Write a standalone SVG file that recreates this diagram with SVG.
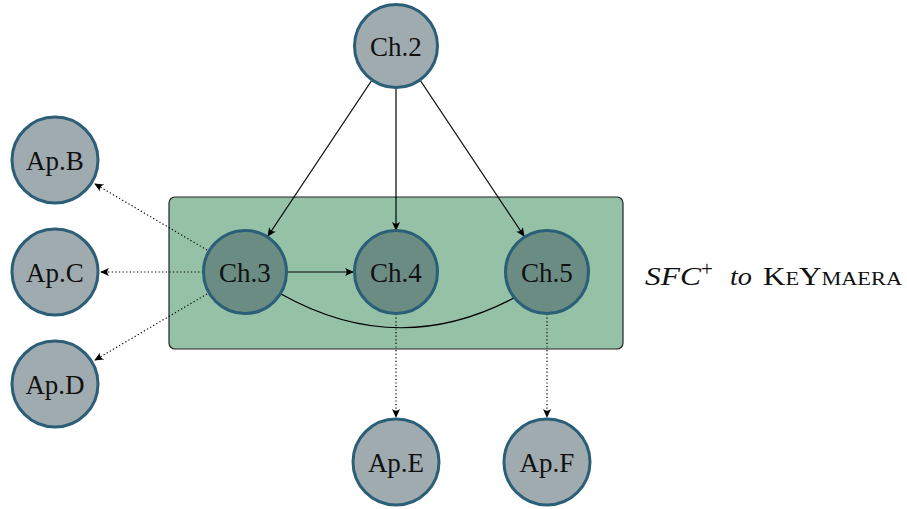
<svg xmlns="http://www.w3.org/2000/svg" width="907" height="509" viewBox="0 0 907 509">
<defs>
<style>
.n circle{fill:#a0abb0;stroke:#2b5f78;stroke-width:3}
.n.in circle{fill:#6b8c83}
.n text{font-family:"Liberation Serif",serif;font-size:27px;fill:#111;text-anchor:middle}
.e{fill:none;stroke:#000;stroke-width:1.2}
.d{fill:none;stroke:#000;stroke-width:1.2;stroke-dasharray:1.2 2.4}
</style>
<marker id="ah" viewBox="0 0 10 10" refX="9" refY="5" markerWidth="9" markerHeight="9" markerUnits="userSpaceOnUse" orient="auto">
<path d="M0,0.5 Q4,5 0,9.5 L10,5 Z" fill="#000"/>
</marker>
</defs>
<rect id="box" x="169" y="197" width="454" height="152" rx="6" fill="#95c2a7" stroke="#222" stroke-width="1.2"/>
<g id="connectors">
<line class="e" x1="372" y1="80" x2="268" y2="236" marker-end="url(#ah)"/>
<line class="e" x1="396" y1="88" x2="396" y2="230" marker-end="url(#ah)"/>
<line class="e" x1="420" y1="80" x2="524" y2="236" marker-end="url(#ah)"/>
<line class="e" x1="287" y1="272" x2="353" y2="272" marker-end="url(#ah)"/>
<path class="e" d="M281,294 Q402,362 523,293" marker-end="url(#ah)"/>
<line class="d" x1="207" y1="250" x2="95" y2="184" marker-end="url(#ah)"/>
<line class="d" x1="203" y1="272" x2="101" y2="272" marker-end="url(#ah)"/>
<line class="d" x1="207" y1="294" x2="95" y2="360" marker-end="url(#ah)"/>
<line class="d" x1="396" y1="314" x2="396" y2="417" marker-end="url(#ah)"/>
<line class="d" x1="547" y1="314" x2="547" y2="417" marker-end="url(#ah)"/>
</g>
<g id="ch2" class="n"><circle cx="396" cy="46" r="41.5"/><text x="396" y="56">Ch.2</text></g>
<g id="ch3" class="n in"><circle cx="245" cy="272" r="41.5"/><text x="245" y="282">Ch.3</text></g>
<g id="ch4" class="n in"><circle cx="396" cy="272" r="41.5"/><text x="396" y="282">Ch.4</text></g>
<g id="ch5" class="n in"><circle cx="547" cy="272" r="41.5"/><text x="547" y="282">Ch.5</text></g>
<g id="apB" class="n"><circle cx="55" cy="160" r="43"/><text x="55" y="170">Ap.B</text></g>
<g id="apC" class="n"><circle cx="55" cy="272" r="43"/><text x="55" y="282">Ap.C</text></g>
<g id="apD" class="n"><circle cx="55" cy="384" r="43"/><text x="55" y="394">Ap.D</text></g>
<g id="apE" class="n"><circle cx="396" cy="462" r="43"/><text x="396" y="472">Ap.E</text></g>
<g id="apF" class="n"><circle cx="547" cy="462" r="43"/><text x="547" y="472">Ap.F</text></g>
<text id="label" y="285" font-family="'Liberation Serif',serif" font-size="25" fill="#111"><tspan x="645" font-style="italic" textLength="56" lengthAdjust="spacingAndGlyphs">SFC</tspan><tspan x="701" y="276" font-size="21">+</tspan><tspan x="730" y="285" font-style="italic" textLength="22" lengthAdjust="spacingAndGlyphs">to</tspan><tspan x="763" font-variant="small-caps" textLength="139" lengthAdjust="spacingAndGlyphs">KeYmaera</tspan></text>
</svg>
